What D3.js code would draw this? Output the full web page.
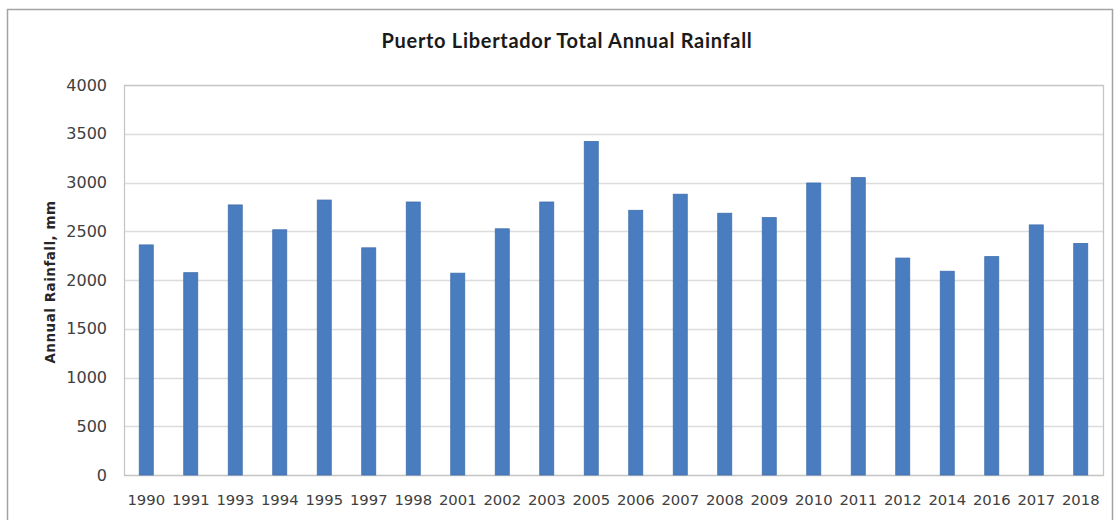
<!DOCTYPE html>
<html>
<head>
<meta charset="utf-8">
<script src="https://cdn.jsdelivr.net/npm/d3@7"></script>
<style>
  html, body { margin: 0; padding: 0; background: #fff; }
  svg { display: block; }
</style>
</head>
<body>
<svg id="chart" width="1120" height="520"></svg>
<script>
// Annual rainfall totals (mm) per year of record
const years = ["1990","1991","1993","1994","1995","1997","1998","2001","2002","2003","2005",
               "2006","2007","2008","2009","2010","2011","2012","2014","2016","2017","2018"];
const rainfall = [2360, 2075, 2770, 2515, 2820, 2330, 2800, 2070, 2525, 2800, 3420,
                  2715, 2880, 2685, 2640, 2995, 3050, 2225, 2090, 2240, 2565, 2375];
const yTicks = [0, 500, 1000, 1500, 2000, 2500, 3000, 3500, 4000];

const titleText = "Puerto Libertador Total Annual Rainfall";
const yTitleText = "Annual Rainfall,  mm";

const svg = d3.select("#chart");
const plot = { left: 124, right: 1103, top: 85, bottom: 475 };

// outer chart frame
svg.append("rect")
  .attr("x", 7.5).attr("y", 9.5)
  .attr("width", 1105).attr("height", 530)
  .attr("fill", "#fff")
  .attr("stroke", "#a3a3a3")
  .attr("stroke-width", 1.5);

const x = d3.scaleBand()
  .domain(years)
  .range([plot.left, plot.right])
  .paddingInner(0.685)
  .paddingOuter(0.3425);

const y = d3.scaleLinear()
  .domain([0, 4000])
  .range([plot.bottom, plot.top]);

// gridlines
svg.append("g")
  .selectAll("line")
  .data(yTicks)
  .join("line")
  .attr("x1", plot.left).attr("x2", plot.right)
  .attr("y1", d => Math.round(y(d)) + 0.5)
  .attr("y2", d => Math.round(y(d)) + 0.5)
  .attr("stroke", "#dcdcdc")
  .attr("stroke-width", 1.5);

// plot area border
svg.append("rect")
  .attr("x", plot.left + 0.5).attr("y", plot.top + 0.5)
  .attr("width", plot.right - plot.left)
  .attr("height", plot.bottom - plot.top)
  .attr("fill", "none")
  .attr("stroke", "#c4c4c4")
  .attr("stroke-width", 1.2);

// bars
svg.append("g")
  .selectAll("rect")
  .data(years.map((yr, i) => ({ yr, v: rainfall[i] })))
  .join("rect")
  .attr("x", d => x(d.yr))
  .attr("width", x.bandwidth())
  .attr("y", d => y(d.v))
  .attr("height", d => y(0) - y(d.v))
  .attr("fill", "#4a7cc0")
  .attr("stroke", "#3f6fae")
  .attr("stroke-width", 0.8);

// y axis labels
const yAxis = d3.axisLeft(y).tickValues(yTicks).tickSize(0).tickPadding(0)
  .tickFormat(d3.format("d"));
const gy = svg.append("g")
  .attr("transform", `translate(${plot.left - 17},0)`)
  .call(yAxis);
gy.select(".domain").remove();
gy.selectAll("text")
  .attr("font-family", "DejaVu Sans, sans-serif")
  .attr("font-size", 16)
  .attr("fill", "#404040");

// x axis labels
const xAxis = d3.axisBottom(x).tickSize(0).tickPadding(0);
const gx = svg.append("g")
  .attr("transform", `translate(0,${plot.bottom + 19})`)
  .call(xAxis);
gx.select(".domain").remove();
gx.selectAll("text")
  .attr("font-family", "DejaVu Sans, sans-serif")
  .attr("font-size", 14.8)
  .attr("fill", "#404040");

// chart title
svg.append("text")
  .attr("x", 567).attr("y", 48)
  .attr("text-anchor", "middle")
  .attr("font-family", "Lato, sans-serif")
  .attr("font-weight", "bold")
  .attr("font-size", 20)
  .attr("letter-spacing", 0.7)
  .attr("fill", "#1a1a1a")
  .text(titleText);

// y axis title
svg.append("text")
  .attr("transform", `translate(55,282) rotate(-90)`)
  .attr("text-anchor", "middle")
  .attr("font-family", "DejaVu Sans, sans-serif")
  .attr("font-weight", "bold")
  .attr("font-size", 13.5)
  .attr("letter-spacing", 0.5)
  .attr("fill", "#262626")
  .text(yTitleText);
</script>
</body>
</html>
